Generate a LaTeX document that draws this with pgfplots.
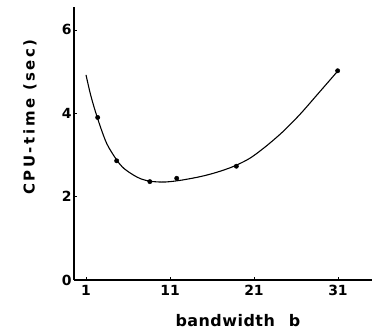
\documentclass[border=0pt]{standalone}
\usepackage{pgfplots}
\pgfplotsset{compat=1.18}
\usepackage{fontspec}
\setmainfont{DejaVu Sans}
\begin{document}
\begin{tikzpicture}
\useasboundingbox (-74bp,-52bp) rectangle (301bp,280bp);
\begin{axis}[
  at={(0,0)}, anchor=south west,
  scale only axis,
  width=298bp, height=273bp,
  xmin=-0.43, xmax=35.05,
  ymin=0, ymax=6.55,
  axis x line=bottom, axis y line=left,
  axis line style={-, line width=1.1pt},
  xtick={1,11,21,31},
  ytick={0,2,4,6},
  tick align=inside,
  major tick length=3bp,
  tick style={line width=0.8pt, black},
  tick label style={font=\fontsize{14}{16}\selectfont\bfseries},
  /pgf/number format/assume math mode=true,
  xticklabel style={yshift=-2bp},
  yticklabel style={xshift=1bp},
  xlabel={\addfontfeature{LetterSpace=3}bandwidth\hspace{14bp}b},
  ylabel={\addfontfeature{LetterSpace=17}CPU-time (sec)},
  xlabel style={font=\fontsize{16}{18}\selectfont\bfseries, at={(axis description cs:0.55,-0.17)}, anchor=base},
  ylabel style={font=\fontsize{15}{17}\selectfont\bfseries, at={(axis description cs:-0.148,0.597)}, anchor=center},
  clip=false,
]
\addplot[black, line width=1.1pt, smooth, no marks] coordinates {
 (1,4.92) (1.5,4.48) (2,4.12) (2.67,3.70) (3.5,3.26) (4.65,2.88) (5.5,2.68)
 (6.63,2.52) (7.5,2.43) (8.6,2.37) (10,2.35) (11,2.36) (12.5,2.40)
 (14.6,2.48) (16.5,2.58) (18.5,2.72) (20.5,2.92) (22.5,3.22) (24.5,3.57)
 (26.5,3.98) (28.5,4.44) (31,5.02)
};
\addplot[only marks, mark=*, mark size=2.2bp, black] coordinates {
 (2.39,3.90) (4.65,2.86) (8.6,2.36) (11.8,2.44) (18.9,2.73) (30.96,5.02)
};
\end{axis}
\end{tikzpicture}
\end{document}
